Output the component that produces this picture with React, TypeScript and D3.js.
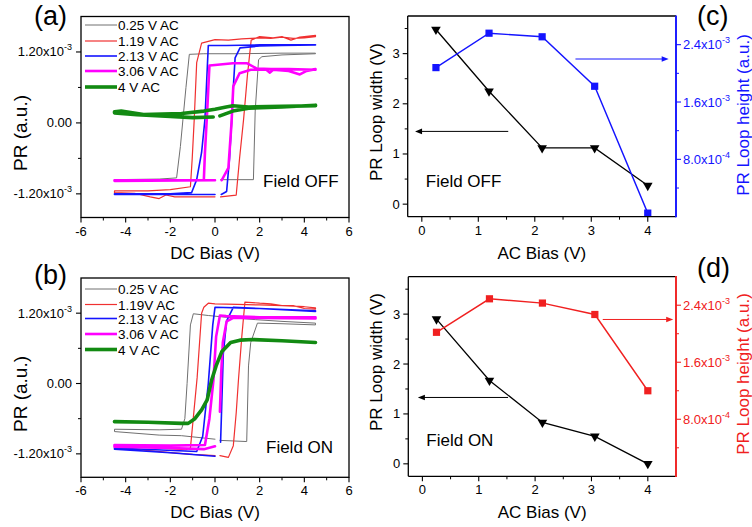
import React from "react";
import * as d3 from "d3";

type P = [number, number];
const FONT = "'Liberation Sans', Arial, Helvetica, sans-serif";

// ---------- Panel (a) Field OFF: DC Bias (V) vs PR (x1e-3 a.u.) ----------
const offGray: P[] = [
  [0.25, -0.96], [1.72, -0.96], [1.8, 0.2], [1.95, 1.07], [2.1, 1.12], [3, 1.15], [4.5, 1.17],
  [4.5, 1.18], [3, 1.18], [1, 1.17], [-0.5, 1.17], [-1.15, 1.16], [-1.3, 0.6], [-1.55, -0.4], [-1.72, -0.93], [-2.5, -0.95], [-4.5, -0.96],
  [-4.5, -0.97], [-2, -0.96], [0, -0.96],
];
const offRed: P[] = [
  [0.25, -1.25], [0.95, -1.22], [1.1, -0.6], [1.28, 0.06], [1.45, 0.8], [1.62, 1.4], [2.0, 1.46], [2.6, 1.44], [3.0, 1.46], [3.4, 1.4], [3.8, 1.45], [4.5, 1.48],
  [4.5, 1.46], [4.0, 1.44], [3.5, 1.43], [3.0, 1.45], [2.5, 1.43], [2.0, 1.44], [1.2, 1.42], [0.6, 1.4], [0.0, 1.41], [-0.3, 1.38], [-0.6, 1.35], [-0.82, 1.02], [-0.93, 0.06], [-1.02, -0.6], [-1.1, -1.08], [-2.0, -1.13], [-3.0, -1.15], [-4.5, -1.15],
  [-4.5, -1.18], [-3.6, -1.19], [-2.9, -1.25], [-2.5, -1.28], [-2.2, -1.22], [-1.8, -1.25], [-1.0, -1.25], [0, -1.25],
];
const offBlue: P[] = [
  [0.28, -1.21], [0.52, -1.16], [0.65, -0.6], [0.75, 0.06], [0.82, 0.6], [0.9, 1.1], [1.12, 1.27], [2, 1.3], [3, 1.31], [4.5, 1.32],
  [4.5, 1.32], [2, 1.32], [0.5, 1.31], [-0.3, 1.31], [-0.45, 0.06], [-0.6, -0.5], [-0.82, -0.96], [-1.05, -1.18], [-2, -1.2], [-4.5, -1.2],
  [-4.5, -1.21], [-2, -1.21], [0, -1.21],
];
const offMagenta: P[] = [
  [0.3, -0.97], [0.6, -0.76], [0.74, 0.0], [0.82, 0.62], [1.1, 0.84], [1.6, 0.9], [2.3, 0.9], [2.46, 0.85], [2.6, 0.9], [3.3, 0.88], [3.8, 0.82], [4.1, 0.88], [4.5, 0.91],
  [4.5, 0.9], [3.3, 0.91], [2.5, 0.91], [1.87, 0.92], [1.42, 1.01], [0.8, 1.01], [0, 0.98], [-0.25, 0.97], [-0.35, 0.2], [-0.45, -0.5], [-0.5, -0.97], [-4.5, -0.97],
  [-4.5, -0.98], [0, -0.97],
];
const offGreen: P[] = [
  [0.22, 0.12], [0.8, 0.2], [1.5, 0.25], [3, 0.27], [4.5, 0.3],
  [4.5, 0.29], [3, 0.28], [1.5, 0.27], [0.8, 0.29], [0.5, 0.27], [0, 0.23], [-0.5, 0.2], [-1.5, 0.16], [-3.2, 0.14], [-4.2, 0.2], [-4.5, 0.19],
  [-4.5, 0.17], [-3.5, 0.14], [-2, 0.11], [-1, 0.09], [-0.08, 0.1],
];

// ---------- Panel (b) Field ON ----------
const onGray: P[] = [
  [0.22, -0.97], [1.42, -0.99], [1.5, 0.3], [1.6, 0.7], [1.9, 1.03], [3, 1.02], [4.5, 1.0],
  [4.5, 1.03], [3, 1.06], [1.8, 1.09], [0.5, 1.13], [-0.3, 1.16], [-0.97, 1.19], [-1.1, 1.0], [-1.25, 0.0], [-1.35, -0.6], [-1.5, -0.78], [-2.5, -0.79], [-4.5, -0.78],
  [-4.5, -0.82], [-2.5, -0.88], [-1.5, -0.89], [0, -0.95],
];
const onRed: P[] = [
  [0.22, -1.23], [0.6, -1.26], [0.82, -1.06], [0.95, -0.5], [1.05, 0.06], [1.2, 0.8], [1.34, 1.39], [2, 1.37], [2.5, 1.36], [3, 1.33], [3.5, 1.33], [4, 1.28], [4.5, 1.27],
  [4.5, 1.29], [4, 1.31], [3, 1.33], [2, 1.34], [1, 1.35], [0, 1.36], [-0.3, 1.37], [-0.5, 1.3], [-0.6, 1.2], [-0.8, 0.1], [-0.95, -0.5], [-1.1, -1.1], [-1.3, -1.13], [-4.5, -1.06],
  [-4.5, -1.09], [-2, -1.18], [-1, -1.21], [0, -1.23],
];
const onBlue: P[] = [
  [0.25, -1.0], [0.3, -0.4], [0.37, 0.5], [0.52, 1.07], [0.82, 1.3], [2, 1.28], [4.5, 1.23],
  [4.5, 1.24], [2, 1.28], [0, 1.3], [-0.1, 1.0], [-0.3, 0.0], [-0.55, -0.9], [-0.82, -1.16], [-4.5, -1.1],
  [-4.5, -1.12], [-2, -1.18], [0, -1.24],
];
const onMagenta: P[] = [
  [0.22, -0.48], [0.28, 0.2], [0.35, 0.7], [0.52, 1.06], [0.82, 1.12], [2, 1.12], [4.5, 1.11],
  [4.5, 1.13], [2, 1.13], [0.5, 1.15], [0.22, 1.16], [0.05, 0.8], [-0.07, 0.06], [-0.25, -0.6], [-0.45, -1.05], [-2, -1.06], [-4.5, -1.05],
  [-4.5, -1.08], [-2, -1.1], [-0.5, -1.12], [0, -1.07],
];
const onGreen: P[] = [
  [-4.5, -0.65], [-3, -0.66], [-1.5, -0.68], [-1.2, -0.68], [-0.9, -0.6], [-0.6, -0.45], [-0.35, -0.28], [-0.15, 0.06],
  [0.05, 0.3], [0.3, 0.54], [0.7, 0.7], [1.12, 0.74], [1.7, 0.75], [3, 0.73], [4.5, 0.7],
];

// ---------- Panels (c), (d) ----------
const acBias = [0.25, 1.19, 2.13, 3.06, 4];
const widthOff = [3.48, 2.25, 1.12, 1.12, 0.37];
const heightOff = [2.08, 2.56, 2.51, 1.82, 0.05]; // x1e-3
const widthOn = [2.9, 1.67, 0.83, 0.55, 0.0];
const heightOn = [2.02, 2.49, 2.43, 2.27, 1.2]; // x1e-3

const legendOff = ["0.25 V AC", "1.19 V AC", "2.13 V AC", "3.06 V AC", "4 V AC"];
const legendOn = ["0.25 V AC", "1.19V AC", "2.13 V AC", "3.06 V AC", "4 V AC"];

const dcTicks = [-6, -4, -2, 0, 2, 4, 6];
const dcMinor = [-5, -3, -1, 1, 3, 5];
const prTicks = [-1.2, 0, 1.2];
const prLabels = [["-1.20x10", "-3"], ["0.00", ""], ["1.20x10", "-3"]];
const prMinor = [-0.6, 0.6];
const acTicks = [0, 1, 2, 3, 4];
const acMinor = [0.5, 1.5, 2.5, 3.5];
const widthTicks = [0, 1, 2, 3];
const widthMinor = [0.5, 1.5, 2.5, 3.5];
const heightTicks = [0.8, 1.6, 2.4];
const heightLabels = [["8.0x10", "-4"], ["1.6x10", "-3"], ["2.4x10", "-3"]];
const heightMinor = [0.4, 1.2, 2.0];

const COLORS = ["#707070", "#f03030", "#1414ff", "#ff00ff", "#128a12"];
const WIDTHS = [1, 1.2, 1.6, 2.6, 3.6];

function Sci({ x, y, main, exp, anchor, fill, size = 13 }: any) {
  return (
    <text x={x} y={y} textAnchor={anchor} fontSize={size} fill={fill} fontFamily={FONT}>
      {main}
      {exp ? <tspan dy={-6} fontSize={9}>{exp}</tspan> : null}
    </text>
  );
}

function LoopPanel({ box, series, legend, legendYs, note, noteXY, letter, letterXY, yTitleY }: any) {
  const [x0, x1, y0, y1] = box;
  const xs = d3.scaleLinear().domain([-6, 6]).range([x0, x1]);
  const ys = d3.scaleLinear().domain([-1.6, 1.8]).range([y1, y0]);
  const line = d3.line<P>().x((d) => xs(d[0])).y((d) => ys(d[1]));
  return (
    <g fontFamily={FONT}>
      {series.map((s: P[], i: number) => (
        <path key={i} d={line(s) || ""} fill="none" stroke={COLORS[i]} strokeWidth={WIDTHS[i]} strokeLinejoin="round" strokeLinecap="round" />
      ))}
      <rect x={x0} y={y0} width={x1 - x0} height={y1 - y0} fill="none" stroke="#000" strokeWidth={1.3} />
      {dcTicks.map((t) => (
        <g key={"x" + t}>
          <line x1={xs(t)} x2={xs(t)} y1={y1} y2={y1 + 5} stroke="#000" strokeWidth={1.1} />
          <text x={xs(t)} y={y1 + 18} textAnchor="middle" fontSize={13}>{t}</text>
        </g>
      ))}
      {dcMinor.map((t) => (
        <line key={"xm" + t} x1={xs(t)} x2={xs(t)} y1={y1} y2={y1 + 3} stroke="#000" strokeWidth={1} />
      ))}
      {prTicks.map((t, i) => (
        <g key={"y" + t}>
          <line x1={x0 - 5} x2={x0} y1={ys(t)} y2={ys(t)} stroke="#000" strokeWidth={1.1} />
          <Sci x={x0 - 9} y={ys(t) + 4.5} main={prLabels[i][0]} exp={prLabels[i][1]} anchor="end" fill="#000" />
        </g>
      ))}
      {prMinor.map((t) => (
        <line key={"ym" + t} x1={x0 - 3} x2={x0} y1={ys(t)} y2={ys(t)} stroke="#000" strokeWidth={1} />
      ))}
      <text x={(x0 + x1) / 2} y={y1 + 41} textAnchor="middle" fontSize={17}>DC Bias (V)</text>
      <text transform={`translate(27,${yTitleY}) rotate(-90)`} textAnchor="middle" fontSize={19}>PR (a.u.)</text>
      {legend.map((l: string, i: number) => (
        <g key={l}>
          <line x1={85} x2={117} y1={legendYs[i]} y2={legendYs[i]} stroke={COLORS[i]} strokeWidth={WIDTHS[i]} />
          <text x={118} y={legendYs[i] + 5} fontSize={13.5}>{l}</text>
        </g>
      ))}
      <text x={noteXY[0]} y={noteXY[1]} fontSize={17}>{note}</text>
      <text x={letterXY[0]} y={letterXY[1]} fontSize={27}>{letter}</text>
    </g>
  );
}

function Arrow({ xa, ya, xb, yb, color }: any) {
  const dir = xb > xa ? 1 : -1;
  const hl = 7, hw = 2.8;
  return (
    <g>
      <line x1={xa} y1={ya} x2={xb - dir * hl * 0.8} y2={yb} stroke={color} strokeWidth={1} />
      <polygon points={`${xb},${yb} ${xb - dir * hl},${yb - hw} ${xb - dir * hl},${yb + hw}`} fill={color} />
    </g>
  );
}

function SummaryPanel({ box, widthV, heightV, color, note, letter, letterXY, leftArrow, rightArrow, leftTitleY, rightTitleY }: any) {
  const [x0, x1, y0, y1] = box;
  const xs = d3.scaleLinear().domain([-0.25, 4.5]).range([x0, x1]);
  const yl = d3.scaleLinear().domain([-0.25, 3.75]).range([y1, y0]);
  const yr = d3.scaleLinear().domain([0, 2.8]).range([y1, y0]);
  const lineW = d3.line<number>().x((_, i) => xs(acBias[i])).y((d) => yl(d));
  const lineH = d3.line<number>().x((_, i) => xs(acBias[i])).y((d) => yr(d));
  const tri = d3.symbol(d3.symbolTriangle, 40)();
  return (
    <g fontFamily={FONT}>
      <path d={lineW(widthV) || ""} fill="none" stroke="#000" strokeWidth={1.3} />
      <path d={lineH(heightV) || ""} fill="none" stroke={color} strokeWidth={1.4} />
      {widthV.map((v: number, i: number) => (
        <path key={"t" + i} d={tri || ""} transform={`translate(${xs(acBias[i])},${yl(v)}) rotate(180)`} fill="#000" />
      ))}
      {heightV.map((v: number, i: number) => (
        <rect key={"s" + i} x={xs(acBias[i]) - 3.6} y={yr(v) - 3.6} width={7.2} height={7.2} fill={color} />
      ))}
      <line x1={x0} x2={x1} y1={y0} y2={y0} stroke="#000" strokeWidth={1.3} />
      <line x1={x0} x2={x1} y1={y1} y2={y1} stroke="#000" strokeWidth={1.3} />
      <line x1={x0} x2={x0} y1={y0} y2={y1} stroke="#000" strokeWidth={1.3} />
      <line x1={x1} x2={x1} y1={y0 - 0.6} y2={y1 + 0.6} stroke={color} strokeWidth={1.9} />
      {acTicks.map((t) => (
        <g key={"x" + t}>
          <line x1={xs(t)} x2={xs(t)} y1={y1} y2={y1 + 5} stroke="#000" strokeWidth={1.1} />
          <text x={xs(t)} y={y1 + 18} textAnchor="middle" fontSize={13}>{t}</text>
        </g>
      ))}
      {acMinor.map((t) => (
        <line key={"xm" + t} x1={xs(t)} x2={xs(t)} y1={y1} y2={y1 + 3} stroke="#000" strokeWidth={1} />
      ))}
      {widthTicks.map((t) => (
        <g key={"yl" + t}>
          <line x1={x0 - 5} x2={x0} y1={yl(t)} y2={yl(t)} stroke="#000" strokeWidth={1.1} />
          <text x={x0 - 8} y={yl(t) + 4.5} textAnchor="end" fontSize={13}>{t}</text>
        </g>
      ))}
      {widthMinor.map((t) => (
        <line key={"ylm" + t} x1={x0 - 3} x2={x0} y1={yl(t)} y2={yl(t)} stroke="#000" strokeWidth={1} />
      ))}
      {heightTicks.map((t, i) => (
        <g key={"yr" + t}>
          <line x1={x1} x2={x1 + 5} y1={yr(t)} y2={yr(t)} stroke={color} strokeWidth={1.1} />
          <Sci x={x1 + 7} y={yr(t) + 4.5} main={heightLabels[i][0]} exp={heightLabels[i][1]} anchor="start" fill={color} />
        </g>
      ))}
      {heightMinor.map((t) => (
        <line key={"yrm" + t} x1={x1} x2={x1 + 3} y1={yr(t)} y2={yr(t)} stroke={color} strokeWidth={1} />
      ))}
      <Arrow xa={xs(leftArrow[0])} ya={yl(leftArrow[2])} xb={xs(leftArrow[1])} yb={yl(leftArrow[2])} color="#000" />
      <Arrow xa={xs(rightArrow[0])} ya={yr(rightArrow[2])} xb={xs(rightArrow[1])} yb={yr(rightArrow[2])} color={color} />
      <text x={(x0 + x1) / 2} y={y1 + 42} textAnchor="middle" fontSize={17}>AC Bias (V)</text>
      <text transform={`translate(382,${leftTitleY}) rotate(-90)`} textAnchor="middle" fontSize={17}>PR Loop width (V)</text>
      <text transform={`translate(749,${rightTitleY}) rotate(-90)`} textAnchor="middle" fontSize={17} fill={color}>PR Loop height (a.u.)</text>
      <text x={xs(0.07)} y={y1 - 30} fontSize={17}>{note}</text>
      <text x={letterXY[0]} y={letterXY[1]} fontSize={27}>{letter}</text>
    </g>
  );
}

export default function App() {
  return (
    <svg width={752} height={527} style={{ position: "absolute", left: 0, top: 0, background: "#fff" }}>
      <rect width={752} height={527} fill="#fff" />
      <LoopPanel
        box={[81, 349, 16.5, 217.5]}
        series={[offGray, offRed, offBlue, offMagenta, offGreen]}
        legend={legendOff}
        legendYs={[25, 41, 56, 71, 87]}
        note="Field OFF"
        noteXY={[263, 187]}
        letter="(a)"
        letterXY={[34, 25]}
        yTitleY={133}
      />
      <LoopPanel
        box={[81, 349, 278, 477.3]}
        series={[onGray, onRed, onBlue, onMagenta, onGreen]}
        legend={legendOn}
        legendYs={[289, 304.5, 318.5, 334, 349.5]}
        note="Field ON"
        noteXY={[266, 453]}
        letter="(b)"
        letterXY={[34, 284]}
        yTitleY={394}
      />
      <SummaryPanel
        box={[407.7, 676, 16, 216.7]}
        widthV={widthOff}
        heightV={heightOff}
        color="#1414ff"
        note="Field OFF"
        letter="(c)"
        letterXY={[697, 25]}
        leftArrow={[1.53, -0.12, 1.45]}
        rightArrow={[2.72, 4.37, 2.2]}
        leftTitleY={112}
        rightTitleY={115}
      />
      <SummaryPanel
        box={[408.3, 676, 276.7, 476.3]}
        widthV={widthOn}
        heightV={heightOn}
        color="#f02020"
        note="Field ON"
        letter="(d)"
        letterXY={[697, 277]}
        leftArrow={[1.52, -0.08, 1.33]}
        rightArrow={[3.2, 4.45, 2.2]}
        leftTitleY={362}
        rightTitleY={374}
      />
    </svg>
  );
}
